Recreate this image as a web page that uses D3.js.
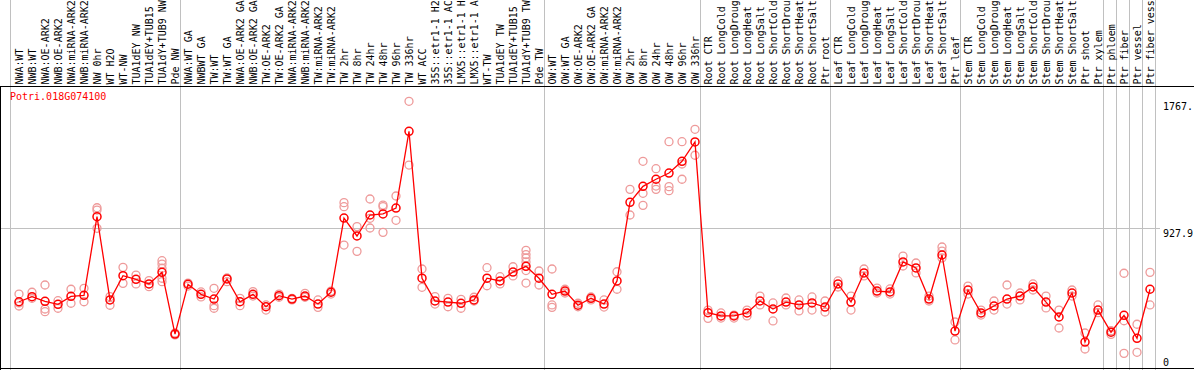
<!DOCTYPE html>
<html>
<head>
<meta charset="utf-8">
<script src="https://cdn.jsdelivr.net/npm/d3@7/dist/d3.min.js"></script>
<style>
body { margin: 0; background: #fff; }
svg { display: block; }
text { font-family: "DejaVu Sans Mono", monospace; font-size: 10px; }
</style>
</head>
<body>
<svg id="chart" width="1194" height="370"></svg>
<script>
var geneName = "Potri.018G074100";

var samples = [
  "NWA:WT", "NWB:WT", "NWA:OE-ARK2", "NWB:OE-ARK2", "NWA:miRNA-ARK2", "NWB:miRNA-ARK2",
  "NW 0hr", "WT H2O", "WT-NW", "TUA1dEY NW", "TUA1dEY+TUB15 NW", "TUA1dY+TUB9 NW", "Pde NW",
  "NWA:WT GA", "NWBWT GA", "TW:WT", "TW:WT GA", "NWA:OE-ARK2 GA", "NWB:OE-ARK2 GA",
  "TW:OE-ARK2", "TW:OE-ARK2 GA", "NWA:miRNA-ARK2 GA", "NWB:miRNA-ARK2 GA", "TW:miRNA-ARK2",
  "TW:miRNA-ARK2 GA", "TW 2hr", "TW 8hr", "TW 24hr", "TW 48hr", "TW 96hr", "TW 336hr",
  "WT ACC", "35S::etr1-1 H2O", "35S::etr1-1 ACC", "LMX5::etr1-1 H2O", "LMX5::etr1-1 ACC",
  "WT-TW", "TUA1dEY TW", "TUA1dEY+TUB15 TW", "TUA1dY+TUB9 TW", "Pde TW",
  "OW:WT", "OW:WT GA", "OW:OE-ARK2", "OW:OE-ARK2 GA", "OW:miRNA-ARK2", "OW:miRNA-ARK2 GA",
  "OW 2hr", "OW 8hr", "OW 24hr", "OW 48hr", "OW 96hr", "OW 336hr",
  "Root CTR", "Root LongCold", "Root LongDrought", "Root LongHeat", "Root LongSalt",
  "Root ShortCold", "Root ShortDrought", "Root ShortHeat", "Root ShortSalt", "Ptr root",
  "Leaf CTR", "Leaf LongCold", "Leaf LongDrought", "Leaf LongHeat", "Leaf LongSalt",
  "Leaf ShortCold", "Leaf ShortDrought", "Leaf ShortHeat", "Leaf ShortSalt", "Ptr leaf",
  "Stem CTR", "Stem LongCold", "Stem LongDrought", "Stem LongHeat", "Stem LongSalt",
  "Stem ShortCold", "Stem ShortDrought", "Stem ShortHeat", "Stem ShortSalt", "Ptr shoot",
  "Ptr xylem", "Ptr phloem", "Ptr fiber", "Ptr vessel", "Ptr fiber vessel"
];

// mean expression per sample
var means = [
  439, 473, 442, 422, 475, 482, 1003, 451, 612, 588, 557, 634, 225,
  555, 488, 457, 590, 439, 488, 406, 479, 457, 477, 424, 502,
  994, 875, 1014, 1021, 1060, 1569, 595, 444, 437, 429, 451, 595, 577, 636, 674, 595,
  488, 510, 416, 462, 424, 577, 1098, 1204, 1251, 1292, 1370, 1498,
  367, 345, 345, 365, 444, 391, 437, 418, 431, 404,
  557, 437, 630, 510, 504, 703, 663, 457, 749, 245,
  517, 365, 411, 457, 477, 537, 437, 338, 497, 172,
  384, 237, 349, 197, 522
];

// replicate values per sample
var replicates = [
  [490, 431, 411], [502, 462], [550, 391, 373], [446, 396], [522, 429], [528, 439],
  [1062, 1047, 926], [473, 416], [667, 561], [616, 557], [579, 539],
  [711, 689, 661, 595, 572], [232, 219],
  [563, 543], [504, 471], [528, 413, 396], [597, 572], [462, 413], [506, 477],
  [418, 384], [490, 469], [462, 451], [495, 469], [451, 402], [510, 490],
  [1096, 1069, 815], [937, 773], [1120, 992, 928], [1080, 1069, 899], [1140, 979],
  [1767.4, 1345], [656, 535], [473, 424], [462, 406], [455, 396], [469, 444],
  [665, 545], [605, 557], [671, 610], [780, 752, 729, 703, 646, 563], [643, 550],
  [656, 418, 402], [522, 497], [429, 406], [451, 471], [451, 404], [638, 522],
  [1184, 1014], [1370, 1158, 1078], [1321, 1206, 1184], [1500, 1202, 1175],
  [1500, 1352, 1251], [1582, 1410],
  [384, 329], [365, 331], [351, 331], [384, 345], [477, 418], [431, 312],
  [464, 418], [451, 378], [471, 384], [444, 371],
  [577, 537], [477, 384], [656, 610], [530, 497], [524, 490], [742, 676],
  [696, 630], [477, 444], [802, 775, 729], [305, 186],
  [543, 490], [384, 351], [444, 384], [550, 424], [497, 451], [557, 517],
  [477, 398], [384, 265], [517, 477], [232, 126],
  [418, 367], [247, 223], [628, 313, 97], [290, 104], [634, 418]
];

// vertical separators sit after these samples
var separators = ["Pde NW", "Pde TW", "OW 336hr", "Ptr root", "Ptr leaf",
  "Ptr xylem", "Ptr phloem", "Ptr fiber", "Ptr vessel", "Ptr fiber vessel"];

var width = 1194, height = 370;
var plotTop = 88, plotBottom = 368;
var labelLen = 14;

var svg = d3.select("#chart");

var maxVal = d3.max(replicates, function (r) { return d3.max(r); });

var x = d3.scaleBand()
  .domain(samples)
  .range([12.5, 12.5 + 13 * samples.length]);

var y = d3.scaleLinear()
  .domain([0, maxVal * 1.05])
  .range([plotBottom, plotTop]);

var cx = function (d) { return x(d) + x.bandwidth() / 2; };

//grid
var grid = svg.append("g").attr("class", "grid");

grid.append("line")
  .attr("x1", x.range()[0] - 2).attr("x2", x.range()[0] - 2)
  .attr("y1", 0).attr("y2", height)
  .style("stroke", "#c0c0c0");

grid.selectAll(".sep").data(separators).enter().append("line")
  .attr("class", "sep")
  .attr("x1", function (d) { return Math.round(x(d) + x.bandwidth()) - 1.5; })
  .attr("x2", function (d) { return Math.round(x(d) + x.bandwidth()) - 1.5; })
  .attr("y1", 0).attr("y2", height)
  .style("stroke", "#c0c0c0");

grid.append("line")
  .attr("x1", 0).attr("x2", 1160)
  .attr("y1", Math.round(y(maxVal * 1.05 / 2)) + 0.5)
  .attr("y2", Math.round(y(maxVal * 1.05 / 2)) + 0.5)
  .style("stroke", "#c0c0c0");

//frame
svg.append("line")
  .attr("x1", 0).attr("x2", width)
  .attr("y1", plotTop - 1.5).attr("y2", plotTop - 1.5)
  .style("stroke", "black");
svg.append("line")
  .attr("x1", 0).attr("x2", width)
  .attr("y1", plotBottom + 0.5).attr("y2", plotBottom + 0.5)
  .style("stroke", "black");
svg.append("line")
  .attr("x1", 0.5).attr("x2", 0.5)
  .attr("y1", plotTop - 2).attr("y2", height)
  .style("stroke", "black");

//sample labels, cut to 14 characters like the original
svg.selectAll(".sample").data(samples).enter().append("text")
  .attr("class", "sample")
  .attr("transform", function (d) { return "translate(" + cx(d) + "," + (plotTop - 3.5) + ") rotate(-90)"; })
  .attr("dy", "0.35em")
  .style("fill", "black")
  .text(function (d) { return d.slice(0, labelLen); });

//replicates
var repPoints = [];
samples.forEach(function (s, i) {
  replicates[i].forEach(function (v) { repPoints.push({ s: s, v: v }); });
});

svg.selectAll(".rep").data(repPoints).enter().append("circle")
  .attr("class", "rep")
  .attr("cx", function (d) { return cx(d.s); })
  .attr("cy", function (d) { return y(d.v); })
  .attr("r", 4)
  .style("fill", "none")
  .style("stroke", "#ee9a9a")
  .style("stroke-width", 1.3);

//mean line
var line = d3.line()
  .x(function (d, i) { return cx(samples[i]); })
  .y(function (d) { return y(d); });

svg.append("path")
  .datum(means)
  .attr("d", line)
  .style("fill", "none")
  .style("stroke", "red")
  .style("stroke-width", 1.3);

svg.selectAll(".mean").data(means).enter().append("circle")
  .attr("class", "mean")
  .attr("cx", function (d, i) { return cx(samples[i]); })
  .attr("cy", function (d) { return y(d); })
  .attr("r", 4)
  .style("fill", "none")
  .style("stroke", "red")
  .style("stroke-width", 1.5);

//gene name
svg.append("text")
  .attr("x", 10)
  .attr("y", plotTop + 12)
  .style("fill", "red")
  .text(geneName);

//value labels
var ticks = [maxVal, maxVal * 1.05 / 2, 0];
svg.selectAll(".tick").data(ticks).enter().append("text")
  .attr("class", "tick")
  .attr("x", 1163)
  .attr("y", function (d, i) { return i === 2 ? y(d) - 2 : y(d) + 9; })
  .style("fill", "black")
  .text(function (d) { return d === 0 ? "0" : String(d.toFixed(1)).slice(0, 5); });
</script>
</body>
</html>
